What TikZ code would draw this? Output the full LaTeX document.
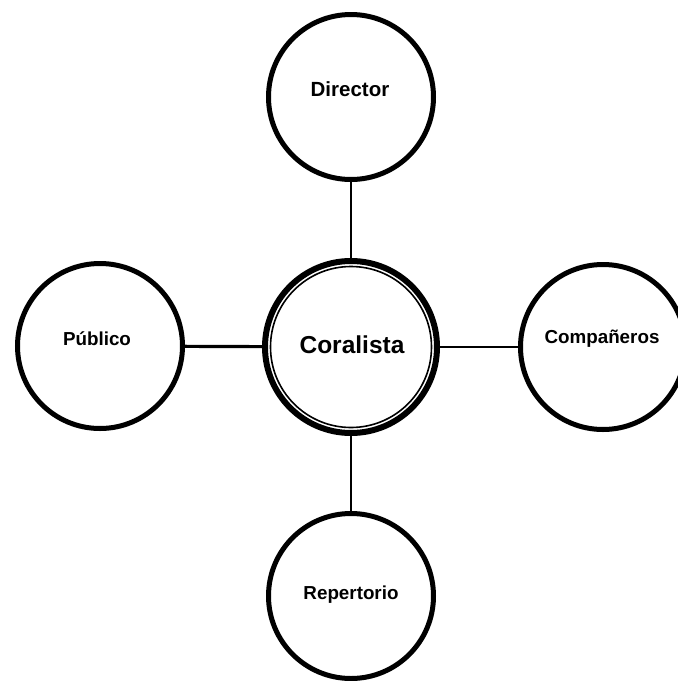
\documentclass[tikz,border=0pt]{standalone}
\usepackage{fontspec}
\setmainfont{Liberation Sans}
\begin{document}
\begin{tikzpicture}[x=1pt,y=-1pt,
  outer/.style={circle, draw=black, fill=white, line width=5pt, minimum size=165pt, inner sep=0pt},
  lbl/.style={font=\bfseries\fontsize{18.8}{22}\selectfont, inner sep=0pt},
  conn/.style={draw=black, line width=2.6pt}]
\useasboundingbox (0,0) rectangle (678,681);
% circles
\node[circle, draw=black, fill=white, line width=6pt, minimum size=172pt, inner sep=0pt] (c) at (351,347) {};
\node[outer] (d) at (351,97) {};
\node[outer] (p) at (100,346) {};
\node[outer] (k) at (603,347) {};
\node[outer] (r) at (351,596) {};
\draw[line width=1.6pt] (c.center) circle (80.5pt);
% connectors
\draw[conn] (c) -- (d);
\draw[conn] (c) -- (r);
\draw[conn, line width=3.2pt] (c) -- (p);
\draw[conn, line width=2.2pt] (c) -- (k);
% labels
\node[font=\bfseries\fontsize{24.5}{27}\selectfont, inner sep=0pt] (cT) at (352,345) {Coralista};
\node[lbl, font=\bfseries\fontsize{20.5}{23}\selectfont] (dT) at (350,89) {Director};
\node[lbl] (pT) at (97,339) {Público};
\node[lbl] (kT) at (602,339) {Compañeros};
\node[lbl] (rT) at (351,595) {Repertorio};
\end{tikzpicture}
\end{document}
